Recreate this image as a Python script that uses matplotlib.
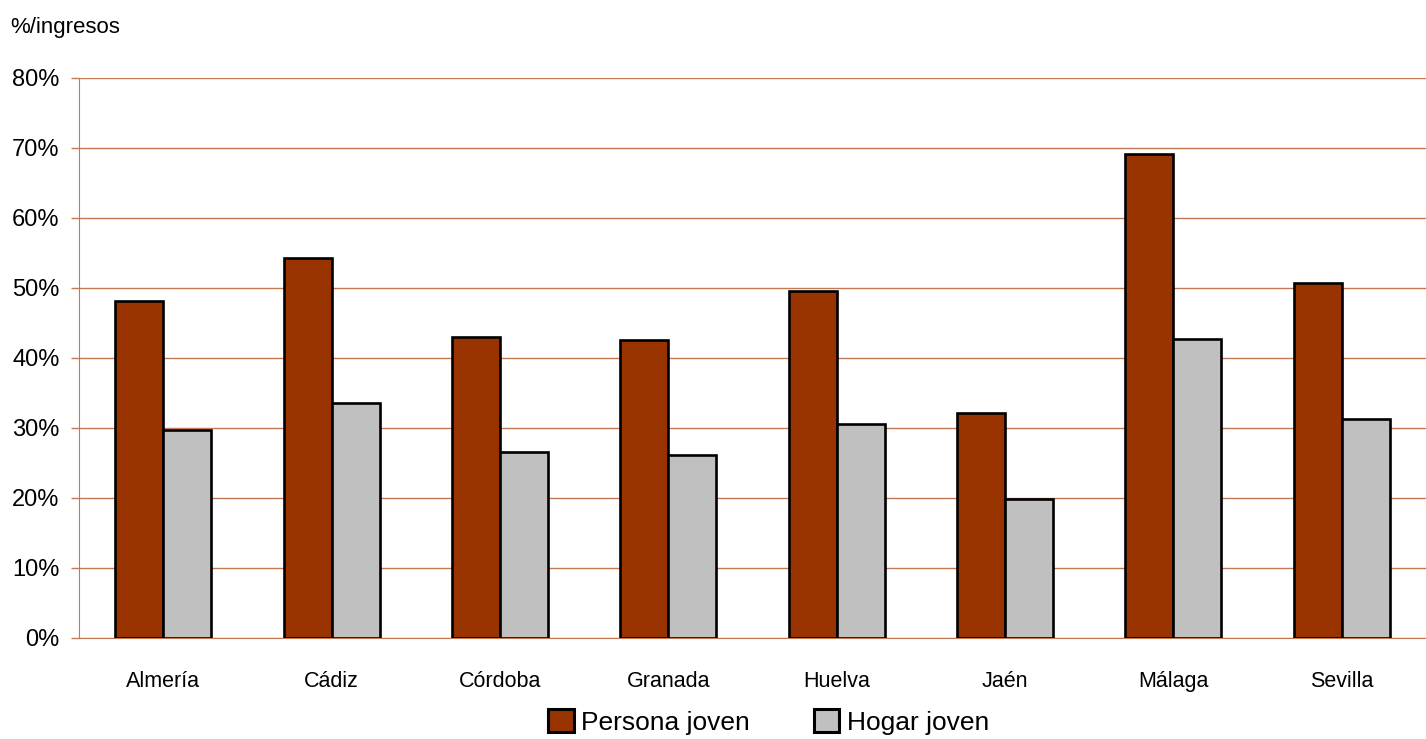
import matplotlib
matplotlib.use("Agg")
import matplotlib.pyplot as plt
import numpy as np
from matplotlib import font_manager

categories = ["Almería", "Cádiz", "Córdoba", "Granada", "Huelva", "Jaén", "Málaga", "Sevilla"]
persona = [48.1, 54.3, 43.0, 42.6, 49.6, 32.1, 69.1, 50.7]
hogar = [29.7, 33.6, 26.6, 26.1, 30.6, 19.9, 42.7, 31.3]
series_names = ["Persona joven", "Hogar joven"]
yticks = [0, 10, 20, 30, 40, 50, 60, 70, 80]

names = {f.name for f in font_manager.fontManager.ttflist}
fam = ["Liberation Sans Narrow", "DejaVu Sans"] if "Liberation Sans Narrow" in names else ["Liberation Sans", "DejaVu Sans"]
plt.rcParams['font.family'] = fam

grid_c = "#C27A55"
fig = plt.figure(figsize=(14.26, 7.39), dpi=100)
ax = fig.add_axes([79/1426, 101/739, 1 - 79/1426, 560/739])

x = np.arange(len(categories))
w = 0.285
ax.bar(x - w/2, persona, w, color="#993300", edgecolor="black", linewidth=1.9, zorder=3, label=series_names[0])
ax.bar(x + w/2, hogar, w, color="#C0C0C0", edgecolor="black", linewidth=1.9, zorder=3, label=series_names[1])

ax.set_xlim(-0.5, len(categories) - 0.5)
ax.set_ylim(0, 80)
ax.set_yticks(yticks)
ax.set_yticklabels([f"{v}%" for v in yticks], fontsize=17)
ax.set_xticks(x)
ax.set_xticklabels(categories, fontsize=15.5)
ax.tick_params(axis='x', length=0, pad=24)
ax.tick_params(axis='y', length=6, color=grid_c, width=1, pad=8)
ax.yaxis.grid(True, color=grid_c, linewidth=1, zorder=0)
ax.set_axisbelow(True)
for s in ["top", "right"]:
    ax.spines[s].set_visible(False)
ax.spines["left"].set_color(grid_c)
ax.spines["bottom"].set_color(grid_c)

fig.text(10/1426, 1 - 28/739, "%/ingresos", fontsize=16, va="center", ha="left")

leg = fig.legend(loc="center", bbox_to_anchor=(0.539, 1 - 722/739), ncol=2, frameon=False,
                 fontsize=19, handlelength=0.95, handleheight=0.95, columnspacing=2.4, handletextpad=0.3)
for h in leg.legend_handles:
    h.set_linewidth(2.2)

fig.savefig("out.png", dpi=100)
